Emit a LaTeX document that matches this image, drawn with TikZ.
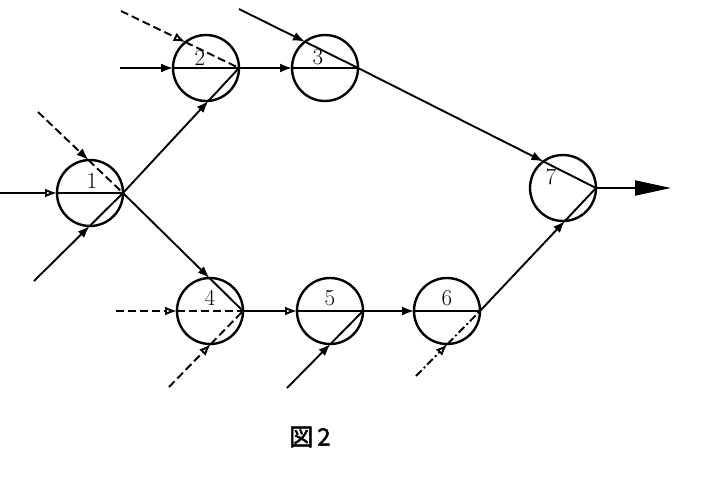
\documentclass[tikz,border=0pt]{standalone}
\usepackage{fontspec}
\newfontfamily\cjk[AutoFakeBold=2]{Noto Sans CJK JP}
\usetikzlibrary{arrows.meta,calc}
\newcommand\Rad{33}
% boundary point where the chord from #1 to the east point of circle #2 enters it
\newcommand\chordpt[3]{%
  \path (#1); \pgfgetlastxy{\ax}{\ay}%
  \path (#2.east); \pgfgetlastxy{\ex}{\ey}%
  \pgfmathsetmacro\ddx{\ax-\ex}%
  \pgfmathsetmacro\ddy{\ay-\ey}%
  \pgfmathsetmacro\clen{veclen(\ddx,\ddy)}%
  \pgfmathsetmacro\tpar{-2*(\Rad/\clen)*(\ddx/\clen)}%
  \coordinate (#3) at ($(#2.east)!\tpar!(#1)$);}
\newcommand\feed[4][]{\chordpt{#2}{#3}{tmp}%
  \draw[ln,#1,-{#4}] (#2) -- (tmp);
  \draw[ln,#1] (tmp) -- (#3.east);}
\tikzset{
  fa/.tip={Latex[length=12pt,width=9pt]},
  oa/.tip={Latex[open,length=12pt,width=9pt]},
  ev/.style={circle,draw,line width=2.4pt,minimum size=66pt,inner sep=0pt,outer sep=0pt},
  num/.style={font=\fontsize{23}{25}\selectfont,inner sep=0pt},
  ln/.style={line width=1.9pt},
  dsh/.style={dash pattern=on 8pt off 4pt},
  dshdot/.style={dash pattern=on 8pt off 3pt on 2pt off 3pt},
}
\begin{document}
\begin{tikzpicture}[x=1pt,y=-1pt]
\useasboundingbox (0,0) rectangle (713,480);
% events
\node[ev] (n1) at (90,193) {};
\node[ev] (n2) at (206,68) {};
\node[ev] (n3) at (325,68) {};
\node[ev] (n4) at (210,311) {};
\node[ev] (n5) at (330,311) {};
\node[ev] (n6) at (447,311) {};
\node[ev] (n7) at (563,188) {};
\node[num] (l1) at (92,181) {1};
\node[num] (l2) at (200,58) {2};
\node[num] (l3) at (318,57) {3};
\node[num] (l4) at (210,298) {4};
\node[num] (l5) at (330,298) {5};
\node[num] (l6) at (447,298) {6};
\node[num] (l7) at (551,177) {7};
% free ends
\coordinate (s1a) at (0,193);
\coordinate (s1b) at (38,112);
\coordinate (s1c) at (34,281);
\coordinate (s2a) at (121,11);
\coordinate (s2b) at (120,68);
\coordinate (s3) at (239,9);
\coordinate (s4a) at (116,311);
\coordinate (s4b) at (169,387);
\coordinate (s5) at (287,388);
\coordinate (s6) at (416,376);
\coordinate (out) at (671,188);
% connectors
\feed{s1a}{n1}{oa}
\feed[dsh]{s1b}{n1}{fa}
\feed{s1c}{n1}{fa}
\feed{n1.east}{n2}{fa}
\feed{n1.east}{n4}{fa}
\feed[dsh]{s2a}{n2}{oa}
\feed{s2b}{n2}{fa}
\feed{n2.east}{n3}{fa}
\feed{s3}{n3}{fa}
\feed{n3.east}{n7}{fa}
\feed[dsh]{s4a}{n4}{oa}
\feed[dsh]{s4b}{n4}{oa}
\feed{n4.east}{n5}{oa}
\feed{s5}{n5}{fa}
\feed{n5.east}{n6}{fa}
\feed[dshdot]{s6}{n6}{oa}
\feed{n6.east}{n7}{fa}
\draw[ln,-{Triangle[length=36pt,width=15pt]}] (n7.east) -- (out);
% caption
\node (cap) at (310,437) {\cjk\bfseries\fontsize{24}{26}\selectfont 図\,2};
\end{tikzpicture}
\end{document}
